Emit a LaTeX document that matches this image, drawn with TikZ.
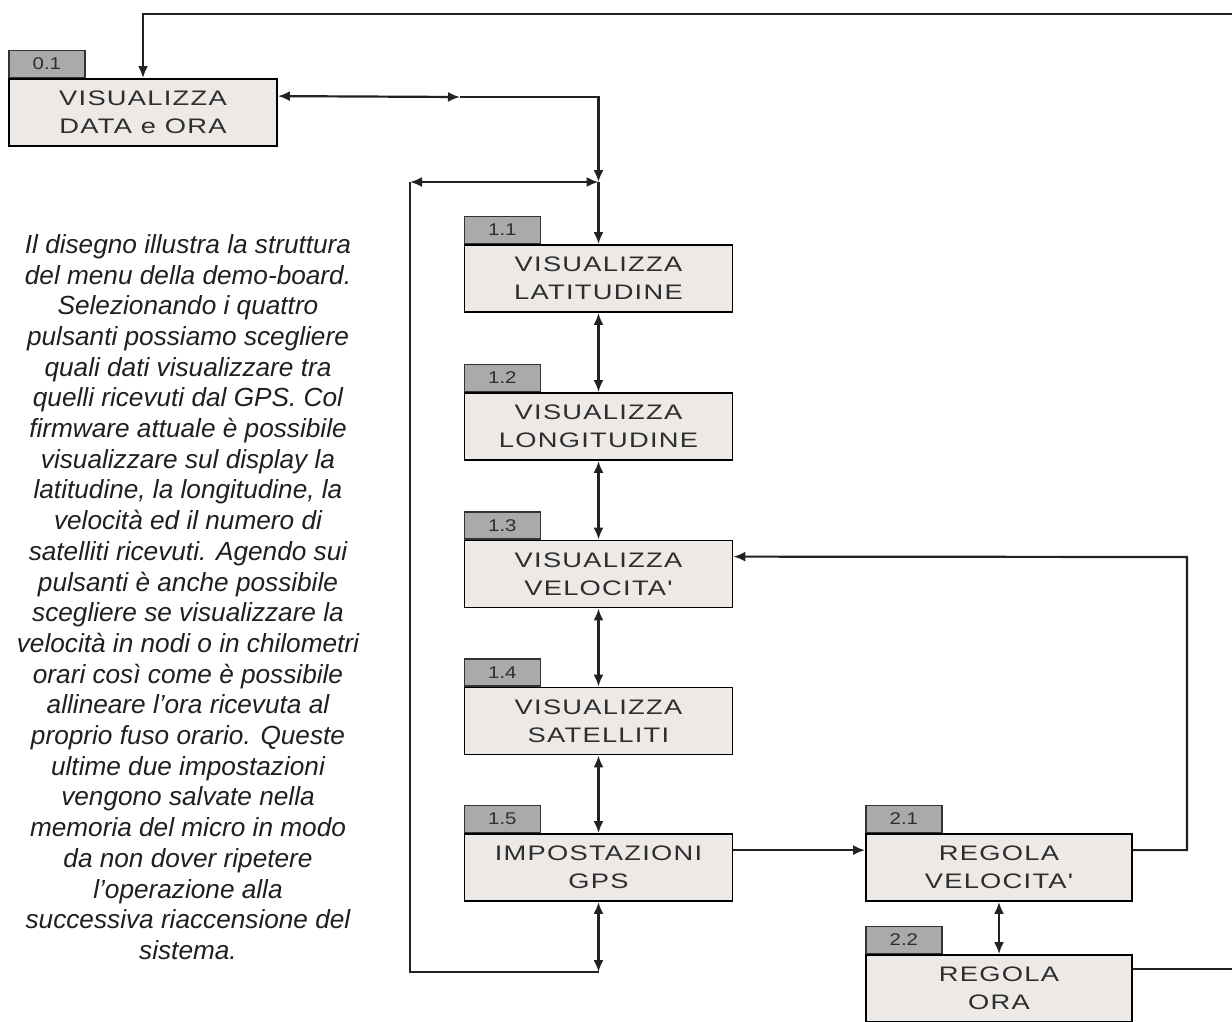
\documentclass[tikz,border=0pt]{standalone}
\usepackage{fontspec}
\setmainfont{Liberation Sans}
\newfontfamily\boxfont[FakeStretch=1.3, LetterSpace=6]{Liberation Sans}
\newfontfamily\tabfont[FakeStretch=1.2]{Liberation Sans}
\usetikzlibrary{arrows.meta}

\definecolor{boxgray}{HTML}{ECE9E7}
\definecolor{tabgray}{HTML}{A9AAAC}
\definecolor{linegray}{HTML}{222222}
\definecolor{textgray}{HTML}{2E2E2E}

\tikzset{
  menubox/.style={rectangle, draw=black, line width=1.8pt, fill=boxgray, minimum width=268pt, minimum height=67pt, inner sep=0pt, align=center, text=textgray, font=\boxfont\fontsize{21}{28}\selectfont},
  tabbox/.style={rectangle, draw=black!80, line width=1.5pt, fill=tabgray, minimum width=76pt, minimum height=27pt, inner sep=0pt, text=textgray, font=\tabfont\fontsize{17}{17}\selectfont, anchor=south west},
  link/.style={draw=linegray, line width=2.2pt, >={Latex[length=12pt,width=10pt]}},
}

\begin{document}
\begin{tikzpicture}[x=1pt, y=-1pt]
    \useasboundingbox (0,0) rectangle (1232,1021);

    % menu boxes
    \node[menubox] (v01) at (143, 112.5) {VISUALIZZA\\DATA e ORA};
    \node[menubox] (v11) at (598.5, 278.5) {VISUALIZZA\\LATITUDINE};
    \node[menubox] (v12) at (598.5, 426.5) {VISUALIZZA\\LONGITUDINE};
    \node[menubox] (v13) at (598.5, 574) {VISUALIZZA\\VELOCITA'};
    \node[menubox] (v14) at (598.5, 721) {VISUALIZZA\\SATELLITI};
    \node[menubox] (v15) at (598.5, 867.5) {IMPOSTAZIONI\\GPS};
    \node[menubox, minimum width=266pt] (r21) at (999, 867.5) {REGOLA\\VELOCITA'};
    \node[menubox, minimum width=266pt] (r22) at (999, 988.5) {REGOLA\\ORA};

    % number tabs
    \node[tabbox] (t01) at (v01.north west) {0.1};
    \node[tabbox] (t11) at (v11.north west) {1.1};
    \node[tabbox] (t12) at (v12.north west) {1.2};
    \node[tabbox] (t13) at (v13.north west) {1.3};
    \node[tabbox] (t14) at (v14.north west) {1.4};
    \node[tabbox] (t15) at (v15.north west) {1.5};
    \node[tabbox] (t21) at (r21.north west) {2.1};
    \node[tabbox] (t22) at (r22.north west) {2.2};

    % bends of the connectors
    \coordinate (jn) at (598.5, 182);
    \coordinate (lp) at (410, 182);
    \coordinate (jb) at (598.5, 972);
    \coordinate (mid01) at (460, 97);
    \coordinate (far) at (1262, 14);
    \coordinate (bk13) at (1187, 557);

    \draw[link, ->] ([yshift=-15pt]r22.north east) -| (far) -| (v01.north);
    \draw[link, <->] ([yshift=-18pt]v01.north east) -- (mid01);
    \draw[link, ->] (mid01) -| (jn);
    \draw[link, <->] (lp) -- (jn);
    \draw[link, ->] (jn) -- (v11.north);
    \draw[link] (lp) |- (jb);
    \draw[link, <->] (v15.south) -- (jb);
    \foreach \a/\b in {v11/v12, v12/v13, v13/v14, v14/v15}
        \draw[link, <->] (\a.south) -- (\b.north);
    \draw[link, ->] ([yshift=-17pt]v15.north east) -- ([yshift=-17pt]r21.north west);
    \draw[link, ->] ([yshift=-17pt]r21.north east) -| (bk13) -- ([yshift=-17pt]v13.north east);
    \draw[link, <->] (r21.south) -- (r22.north);

    % description
    \node[font=\itshape\fontsize{26.2}{30.7}\selectfont, align=center, text=black!88] (desc) at (188, 597) {Il disegno illustra la struttura\\
        del menu della demo-board.\\
        Selezionando i quattro\\
        pulsanti possiamo scegliere\\
        quali dati visualizzare tra\\
        quelli ricevuti dal GPS. Col\\
        firmware attuale è possibile\\
        visualizzare sul display la\\
        latitudine, la longitudine, la\\
        velocità ed il numero di\\
        satelliti ricevuti. Agendo sui\\
        pulsanti è anche possibile\\
        scegliere se visualizzare la\\
        velocità in nodi o in chilometri\\
        orari così come è possibile\\
        allineare l’ora ricevuta al\\
        proprio fuso orario. Queste\\
        ultime due impostazioni\\
        vengono salvate nella\\
        memoria del micro in modo\\
        da non dover ripetere\\
        l’operazione alla\\
        successiva riaccensione del\\
        sistema.};
\end{tikzpicture}
\end{document}
